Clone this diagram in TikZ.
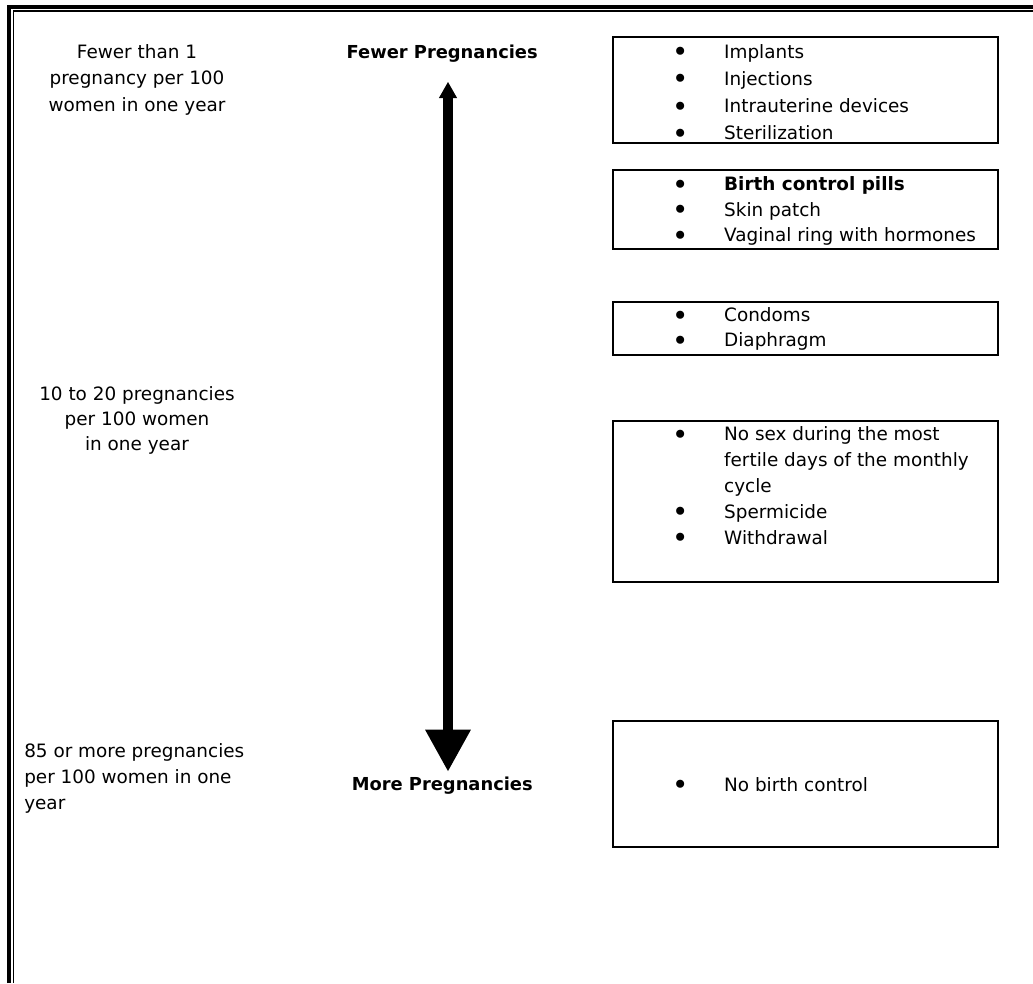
\documentclass[tikz,border=0pt]{standalone}
\usepackage{fontspec}
\setmainfont{DejaVu Sans}
\usetikzlibrary{arrows.meta}
\newcommand\bulitem{\makebox[37pt][l]{\makebox[8.14pt][c]{\raisebox{-2.6pt}{\scalebox{1.5}{•}}}}}
\newcommand\nobulitem{\hspace*{37pt}}
\begin{document}
\begin{tikzpicture}[x=0.75pt,y=-0.75pt,
  box/.style={draw, line width=1.5pt, rectangle, minimum width=289pt, inner sep=0pt},
  lst/.style={inner sep=0pt, anchor=base west, font=\fontsize{13.8pt}{#1}\selectfont},
  ctr/.style={inner sep=0pt, anchor=base, font=\fontsize{13.8pt}{#1}\selectfont},
  lbl/.style={inner sep=0pt, anchor=base east, font=\fontsize{13.4pt}{16pt}\selectfont\bfseries}]
\useasboundingbox (0,0) rectangle (1033,983);
\fill[white] (0,0) rectangle (1033,983);
% page border
\draw[line width=3pt, line join=miter] (8.7,983) -- (8.7,6.7) -- (1033,6.7);
\draw[line width=1.1pt, line join=miter] (13.3,983) -- (13.3,11.2) -- (1033,11.2);
% left texts
\node[ctr=19.9pt] (lt) at (137,58) {\begin{tabular}[t]{@{}c@{}}Fewer than 1\\pregnancy per 100\\women in one year\end{tabular}};
\node[ctr=19.1pt] (lm) at (137,400) {\begin{tabular}[t]{@{}c@{}}10 to 20 pregnancies\\per 100 women\\in one year\end{tabular}};
\node[lst=19.5pt] (lb) at (24,757) {\begin{tabular}[t]{@{}l@{}}85 or more pregnancies\\per 100 women in one\\year\end{tabular}};
% arrow labels
\node[lbl] (fewer) at (538,58) {Fewer Pregnancies};
\node[lbl] (more) at (533,790) {More Pregnancies};
% arrow
\coordinate (atop) at (448,81.7);
\coordinate (abot) at (448,771.7);
\draw[line width=7.1pt, {Triangle[width=12.75pt,length=12.3pt]}-{Triangle[width=32.25pt,length=31.5pt]}] (atop) -- (abot);
% boxes
\node[box, minimum height=79.5pt] (b1) at (805.7,90) {};
\node[box, minimum height=59.25pt] (b2) at (805.7,209.5) {};
\node[box, minimum height=39.75pt] (b3) at (805.7,328.5) {};
\node[box, minimum height=120.75pt] (b4) at (805.7,501.5) {};
\node[box, minimum height=94.5pt] (b5) at (805.7,784) {};
% lists
\node[lst=20.4pt] (t1) at (674.6,58.3) {\begin{tabular}[t]{@{}l@{}}\bulitem Implants\\\bulitem Injections\\\bulitem Intrauterine devices\\\bulitem Sterilization\end{tabular}};
\node[lst=19.1pt] (t2) at (674.6,190.7) {\begin{tabular}[t]{@{}l@{}}\bulitem\textbf{Birth control pills}\\\bulitem Skin patch\\\bulitem Vaginal ring with hormones\end{tabular}};
\node[lst=18.75pt] (t3) at (674.6,321.7) {\begin{tabular}[t]{@{}l@{}}\bulitem Condoms\\\bulitem Diaphragm\end{tabular}};
\node[lst=19.4pt] (t4) at (674.6,440.7) {\begin{tabular}[t]{@{}l@{}}\bulitem No sex during the most\\\nobulitem fertile days of the monthly\\\nobulitem cycle\\\bulitem Spermicide\\\bulitem Withdrawal\end{tabular}};
\node[lst=19.5pt] (t5) at (674.6,791) {\begin{tabular}[t]{@{}l@{}}\bulitem No birth control\end{tabular}};
\end{tikzpicture}
\end{document}
